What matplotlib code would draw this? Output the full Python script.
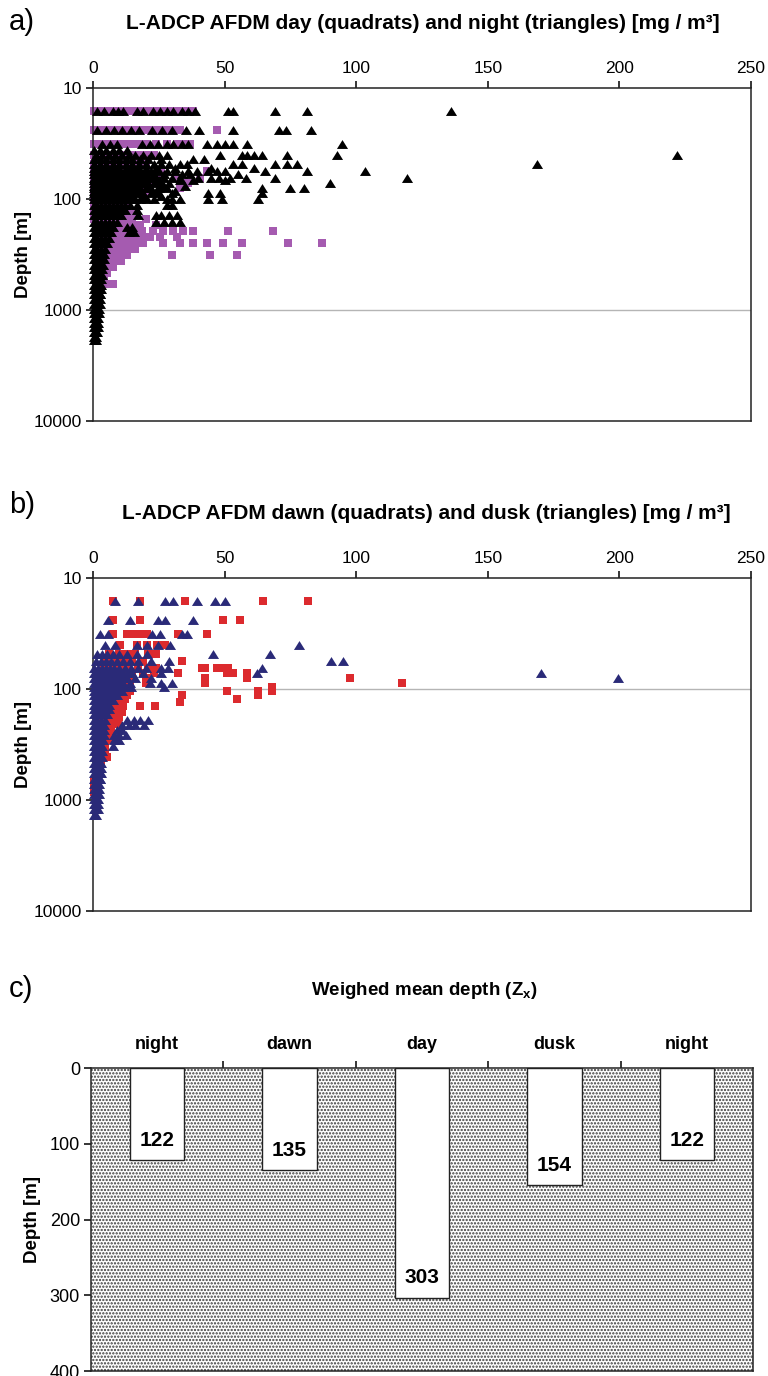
import numpy as np
import matplotlib
matplotlib.use("Agg")
import matplotlib.pyplot as plt
from matplotlib import font_manager
from matplotlib.patches import Rectangle
from matplotlib.ticker import NullLocator

plt.rcParams['font.family'] = ['Liberation Sans', 'DejaVu Sans']
plt.rcParams['hatch.linewidth'] = 1.1
names = {f.name for f in font_manager.fontManager.ttflist}
narrow = 'Liberation Sans Narrow' if 'Liberation Sans Narrow' in names else 'Liberation Sans'

# ---- a) night (triangles) and day (quadrats), AFDM [mg/m3] per depth bin [m]
night_depth = [16, 24, 32, 36, 40, 44, 48, 52, 56, 60, 64, 68, 72, 76, 80, 84, 88, 94, 100,
               112, 125, 140, 160, 180, 200, 225, 250, 280, 315, 350, 390, 430, 480, 530,
               590, 650, 720, 800, 880, 970, 1070, 1180, 1300, 1430, 1580, 1740, 1850]
night_afdm = [
    [1.4, 4, 7.7, 9.5, 11.5, 16.6, 19, 22.9, 25.5, 28, 30.5, 33.7, 36.2, 38.8, 51.4, 53.3, 69.2, 81.2, 136],
    [1.6, 4.8, 7.9, 11.1, 14.3, 17.4, 22.5, 26.3, 30.1, 35.2, 40.2, 53, 70.7, 73.3, 82.7],
    [3.3, 6.4, 9, 18.5, 21.7, 24.8, 28, 30.5, 33.7, 36.2, 43.2, 47, 50.2, 53.3, 58.4, 94.5],
    [0.5, 2.5, 5, 7.5, 10, 13],
    [1, 3.5, 6, 8.5, 11, 13.5, 16, 19, 22, 25, 28, 48.3, 56.5, 58.6, 61.2, 64.3, 73.8, 92.8, 222],
    [0.5, 2.5, 5, 7.5, 10, 12.5, 15, 18, 21, 26, 38, 42],
    [0.5, 2.5, 5, 7.5, 10, 12.5, 15, 17.5, 20, 23, 26, 29, 33, 35.6, 53.3, 56.5, 69.2, 73.6, 77.4, 168.6],
    [0.5, 2.5, 5, 7.5, 10, 12.5, 15, 17.5, 20, 24, 31, 45, 61],
    [0.5, 2, 4, 6, 8, 10, 12, 14, 16, 18, 20, 22, 25, 28, 31, 36, 39.4, 43.8, 47, 50, 65.4, 81.2, 103.3],
    [0.5, 2.5, 5, 7.5, 10, 12.5, 15, 17.5, 20, 23, 27, 34, 37, 55],
    [0.5, 2, 3.5, 5, 6.5, 8, 9.5, 11, 12.5, 14, 16, 18, 20, 22, 24, 27, 30, 33, 40, 45, 48, 52, 58, 69.2, 119.2],
    [0.5, 2.5, 5, 7.5, 10, 12.5, 15, 17.5, 20, 25, 33, 38, 50],
    [0.5, 1.5, 3, 4.5, 6, 7.5, 9, 10.5, 12, 13.5, 15, 17, 19, 21, 23, 26, 29, 90],
    [0.5, 2.5, 5, 7.5, 10, 12.5, 15, 17.5, 21, 27, 35],
    [0.5, 1.5, 3, 4.5, 6, 7.5, 9, 10.5, 12, 14, 16, 18, 20, 22, 25, 28, 64.1, 74.9, 80],
    [0.5, 2.5, 5, 7.5, 10, 12.5, 15, 18, 24, 31],
    [0.5, 1.5, 3, 4.5, 6, 7.5, 9, 10.5, 12, 14, 16, 19, 22, 25, 30, 43.8, 48.3, 64.1],
    [0.5, 2.5, 5, 7.5, 10, 12.5, 15, 19, 26],
    [0.5, 1.5, 3, 4.5, 6, 7.5, 9, 10.5, 12, 14, 16, 18, 20.5, 23, 28, 30, 33, 43.7, 49, 62.8],
    [0.5, 1.5, 3, 4.5, 6, 7.5, 9, 10.5, 12, 14, 16.6, 28, 30],
    [0.5, 1.5, 3, 4.5, 6, 7.5, 9, 10.5, 12, 16.6],
    [0.5, 1.5, 3, 4.5, 6, 7.5, 9, 10.5, 17, 24, 26, 29, 32],
    [0.5, 1.5, 3, 4.5, 6, 7.5, 9, 24, 27, 30, 33],
    [0.5, 1.5, 3, 4.5, 6, 7.5, 13, 15],
    [0.5, 1.5, 3, 4.5, 6, 7, 13.5, 15.5],
    [0.5, 1.5, 3, 4.5, 6],
    [0.5, 1.5, 3, 4.5, 5.5],
    [0.5, 1.5, 3, 4.5],
    [0.5, 1.5, 3, 4.3],
    [0.5, 1.5, 3, 4],
    [0.5, 1.5, 2.8, 3.8],
    [0.5, 1.5, 2.5, 3.5],
    [0.5, 1.5, 2.5, 3.3],
    [0.5, 1.5, 2.5, 3.2],
    [0.5, 1.5, 2.5, 3],
    [0.5, 1.5, 2.5, 3],
    [0.5, 1.5, 2.5, 2.8],
    [0.5, 1.5, 2.5],
    [0.5, 1.5, 2.5],
    [0.5, 1.5, 2.4],
    [0.5, 1.5, 2.2],
    [0.5, 1.5, 2],
    [0.5, 1.5, 2],
    [0.5, 1.2, 1.8],
    [0.5, 1.2, 1.6],
    [0.5, 1.2],
    [0.5, 1],
]

day_depth = [16, 24, 32, 40, 48, 56, 64, 72, 80, 88, 100, 115, 130, 150, 170, 195, 220,
             250, 280, 320, 360, 410, 460, 520, 580, 650, 740]
day_afdm = [
    [0.5, 3, 6, 9, 12, 15, 18, 21, 24, 27, 30, 33, 36, 38],
    [0.5, 3, 6, 9, 12, 15, 18, 21, 24, 27, 30, 33, 47],
    [0.5, 3, 6, 9, 12, 14, 17, 20, 24, 28, 32, 35, 37],
    [0.5, 2.5, 5, 8, 11, 14, 17, 20, 23],
    [0.5, 2.5, 5, 8, 11, 14, 17, 20],
    [0.5, 2.5, 5, 8, 11, 14, 17, 21, 26, 43.2],
    [0.5, 2.5, 5, 8, 11, 14, 18, 22, 26, 32, 40.7],
    [0.5, 2.5, 5, 8, 11, 14, 18, 22, 33, 36],
    [0.5, 2.5, 5, 8, 11, 14, 18, 33],
    [0.5, 2.5, 5, 8, 11, 14, 17, 20],
    [0.5, 2.5, 5, 7.5, 10, 12.5, 15],
    [0.5, 2.5, 5, 7.5, 10, 12.5],
    [0.5, 2.5, 5, 7.5, 10, 12.5, 15],
    [0.5, 2.5, 5, 7.5, 10, 12.5, 15, 20],
    [1, 3, 5.5, 8, 10.5, 13, 15.5, 18, 24],
    [1, 3, 5.5, 8, 10.5, 13, 15.5, 18.5, 22.8, 26.6, 30.4, 34.2, 38, 51.4, 68.4],
    [1, 3, 5.5, 8, 10.5, 13, 16, 19, 21.7, 25.5, 31.9],
    [1, 3, 5.5, 8, 10.5, 13, 16, 19, 26.6, 33, 38, 43.3, 49.4, 56.6, 74, 87],
    [1, 3, 5.5, 8, 10.5, 13, 16],
    [1, 3, 5, 7, 9, 11, 13, 30, 44.5, 54.7],
    [1, 2.5, 4.5, 6.5, 8.5, 10.5],
    [1, 2.5, 4, 5.5, 7.5],
    [1, 2.5, 4, 5.5],
    [1, 2.5, 4],
    [1, 2, 3.5, 6, 7.6],
    [1, 2, 3],
    [1, 2],
]

# ---- b) dusk (triangles) and dawn (quadrats)
dusk_depth = [16, 24, 32, 40, 48, 56, 64, 72, 80, 88, 96, 104, 114, 125, 138, 152, 168,
              190, 210, 235, 260, 290, 325, 365, 410, 460, 510, 570, 640, 710, 790, 880,
              980, 1090, 1210, 1350]
dusk_afdm = [
    [8.4, 17.1, 27.4, 30.4, 39.5, 46.4, 50.2],
    [5.8, 14, 24.7, 27.4, 38],
    [2.7, 5.8, 22.4, 25.5, 33.8, 35.7],
    [4.6, 8.4, 16.7, 20.5, 24.7, 29.3, 78.3],
    [1.5, 3.5, 5.5, 7.5, 10, 13, 16.7, 20.5, 45.6, 67.3],
    [1, 3, 5, 7, 9, 11.5, 14, 17, 22, 29, 90.6, 95.1],
    [0.5, 2, 3.5, 5, 6.5, 8, 10, 12, 14.5, 17, 20, 26, 28.5, 64.2],
    [0.5, 2, 3.5, 5, 6.5, 8, 9.5, 11, 13, 15, 19, 26, 62.2, 170.2],
    [0.5, 2, 3.5, 5, 6.5, 8, 9.5, 11, 13, 16, 22, 199.6],
    [0.5, 2, 3.5, 5, 6.5, 8, 9.5, 11.5, 14, 21.7, 26, 30],
    [0.5, 2, 3.5, 5, 6.5, 8, 10, 12, 14.5, 27],
    [0.5, 1.5, 3, 4.5, 6, 7.5, 9, 11],
    [0.5, 1.5, 3, 4.5, 6, 7.5, 9],
    [0.5, 1.5, 3, 4.5, 6, 7.5],
    [0.5, 1.5, 3, 4.5, 6],
    [0.5, 1.5, 3, 4.5, 6],
    [0.5, 1.5, 3, 4.5, 5.5],
    [0.5, 1.5, 3, 4.5, 13, 15.5, 18, 21],
    [0.5, 1.5, 3, 4, 11, 13.5, 16, 19.5],
    [0.5, 1.5, 3, 4, 9, 11],
    [0.5, 1.5, 2.8, 4, 8, 10, 12.5],
    [0.5, 1.5, 2.8, 3.8, 8, 10],
    [0.5, 1.5, 2.8, 3.6, 7.6],
    [0.5, 1.5, 2.7, 3.5],
    [0.5, 1.5, 2.6, 3.3],
    [0.5, 1.5, 2.5, 3.2],
    [0.5, 1.5, 2.5, 3],
    [0.5, 1.5, 2.5, 3],
    [0.5, 1.5, 2.5, 2.8],
    [0.5, 1.5, 2.4],
    [0.5, 1.5, 2.3],
    [0.5, 1.5, 2.2],
    [0.5, 1.5, 2],
    [0.5, 1.3, 1.8],
    [0.5, 1.2, 1.8],
    [0.5, 1.2],
]

dawn_depth = [16, 24, 32, 40, 48, 56, 64, 72, 80, 88, 96, 104, 112, 122, 130, 142, 160,
              180, 205, 230, 260, 290, 330, 370, 410, 460, 520, 590, 660, 750, 850]
dawn_afdm = [
    [7.7, 17.8, 34.9, 64.7, 81.8],
    [7.7, 17.8, 49.5, 55.8],
    [7.7, 12.8, 15.3, 17.8, 19.1, 20.5, 32.3, 43.2],
    [10.3, 16.6, 20.4, 24.2, 27.4],
    [6, 10, 12.9, 16, 21, 24],
    [5, 9, 12, 15, 19, 33.7],
    [4, 7, 10, 13, 17, 21, 24, 41.3, 42.5, 47, 49, 51.4],
    [3, 6, 9, 12, 15, 19, 23, 32.3, 51, 53, 58.4],
    [3, 6, 9, 12, 15, 20, 42.6, 58.4, 97.6],
    [2.5, 5, 8, 11, 14, 20, 42.5, 117.3],
    [2.5, 5, 8, 11, 14, 68],
    [2.5, 5, 8, 11, 14, 50.8, 62.7, 67.9],
    [2, 4.5, 7, 10, 13, 33.7, 62.8],
    [2, 4.5, 7, 10, 12, 54.6],
    [2, 4.5, 7, 9.5, 33],
    [2, 4, 6.5, 9, 11.4, 17.9, 23.6],
    [2, 4, 6, 8.5, 11],
    [2, 4, 6, 8, 10],
    [2, 3.5, 5.5, 7.5, 9.5],
    [2, 3.5, 5, 7],
    [2, 3.5, 5, 6.5],
    [1.5, 3, 4.5, 6],
    [1.5, 3, 4.5],
    [1.5, 3, 4.5],
    [1.5, 3, 4.5, 5.3],
    [1.5, 3],
    [1, 2.5],
    [1, 2],
    [0.5, 1.5],
    [0.5, 1.5],
    [0.5, 1.2],
]

# ---- c) weighed mean depth
phases = ['night', 'dawn', 'day', 'dusk', 'night']
zx = [122, 135, 303, 154, 122]

purple = '#A55BB0'
red = '#DC2A2E'
navy = '#2A2A78'
tri = [(-1, -0.8), (1, -0.8), (0, 0.8), (-1, -0.8)]


def flat(depths, rows):
    xs = [v for d, r in zip(depths, rows) for v in r]
    ys = [d for d, r in zip(depths, rows) for v in r]
    return xs, ys


def style_depth_axes(ax, line_at):
    ax.set_yscale('log')
    ax.set_xlim(0, 250)
    ax.set_ylim(10000, 10)
    ax.xaxis.tick_top()
    ax.yaxis.tick_left()
    ax.set_xticks([0, 50, 100, 150, 200, 250])
    ax.set_yticks([10, 100, 1000, 10000])
    ax.set_yticklabels(['10', '100', '1000', '10000'])
    ax.yaxis.set_minor_locator(NullLocator())
    ax.tick_params(axis='x', direction='out', length=5, width=1.1, pad=4, labelsize=12.5)
    ax.tick_params(axis='y', direction='out', length=5, width=1.1, pad=3, labelsize=12.5)
    ax.axhline(line_at, color='#b5b5b5', lw=1, zorder=0)
    for s in ax.spines.values():
        s.set_linewidth(1.1)
        s.set_color('#222222')
    ax.set_ylabel('Depth [m]', fontsize=13.5, fontweight='bold', labelpad=1)


fig = plt.figure(figsize=(7.68, 13.76), dpi=100)

# panel a
ax1 = fig.add_axes([0.1211, 0.6940, 0.8568, 0.2420])
style_depth_axes(ax1, 1000)
x, y = flat(day_depth, day_afdm)
ax1.scatter(x, y, marker='s', s=36, c=purple, linewidths=0, clip_on=False, zorder=2)
x, y = flat(night_depth, night_afdm)
ax1.scatter(x, y, marker=tri, s=64, c='black', linewidths=0, clip_on=False, zorder=3)

# panel b
ax2 = fig.add_axes([0.1211, 0.3379, 0.8568, 0.2420])
style_depth_axes(ax2, 100)
x, y = flat(dawn_depth, dawn_afdm)
ax2.scatter(x, y, marker='s', s=30, c=red, linewidths=0, clip_on=False, zorder=2)
x, y = flat(dusk_depth, dusk_afdm)
ax2.scatter(x, y, marker=tri, s=64, c=navy, linewidths=0, clip_on=False, zorder=3)

fig.text(0.012, 0.984, 'a)', fontsize=21, va='center')
fig.text(0.551, 0.9826, 'L-ADCP AFDM day (quadrats) and night (triangles) [mg / m³]',
         fontsize=15, fontweight='bold', ha='center', va='center')
fig.text(0.012, 0.633, 'b)', fontsize=21, va='center')
fig.text(0.555, 0.627, 'L-ADCP AFDM dawn (quadrats) and dusk (triangles) [mg / m³]',
         fontsize=15, fontweight='bold', ha='center', va='center')

# panel c
ax3 = fig.add_axes([0.1185, 0.0036, 0.862, 0.2202])
ax3.set_xlim(0, 5)
ax3.set_ylim(400, 0)
ax3.add_patch(Rectangle((0, 0), 5, 400, facecolor='white', edgecolor='#3a3a3a',
                        hatch='.....', lw=0, zorder=0))
centers = np.arange(len(zx)) + 0.5
ax3.bar(centers, zx, width=0.41, color='white', edgecolor='#222222', lw=1, zorder=2)
for cx, v in zip(centers, zx):
    ax3.text(cx, v - 26, str(v), ha='center', va='center', fontsize=15,
             fontweight='bold', family=narrow, zorder=3)
ax3.xaxis.tick_top()
ax3.yaxis.tick_left()
ax3.set_xticks([1, 2, 3, 4])
ax3.set_xticklabels([])
ax3.set_xticks(centers, minor=True)
ax3.set_xticklabels(phases, minor=True, fontsize=13, fontweight='bold', family=narrow)
ax3.tick_params(axis='x', which='major', direction='out', length=5, width=1.1)
ax3.tick_params(axis='x', which='minor', length=0, pad=11)
ax3.set_yticks([0, 100, 200, 300, 400])
for lab in ax3.get_yticklabels():
    lab.set_family(narrow)
ax3.tick_params(axis='y', direction='out', length=5, width=1.1, pad=3, labelsize=13)
for s in ax3.spines.values():
    s.set_linewidth(1.1)
    s.set_color('#222222')
ax3.set_ylabel('Depth [m]', fontsize=13.5, fontweight='bold', labelpad=6)

fig.text(0.012, 0.281, 'c)', fontsize=21, va='center', family=narrow)
fig.text(0.552, 0.280, r'Weighed mean depth (Z$_\mathregular{x}$)', fontsize=13.5,
         fontweight='bold', ha='center', va='center', family=narrow)

fig.savefig('out.png', dpi=100)
